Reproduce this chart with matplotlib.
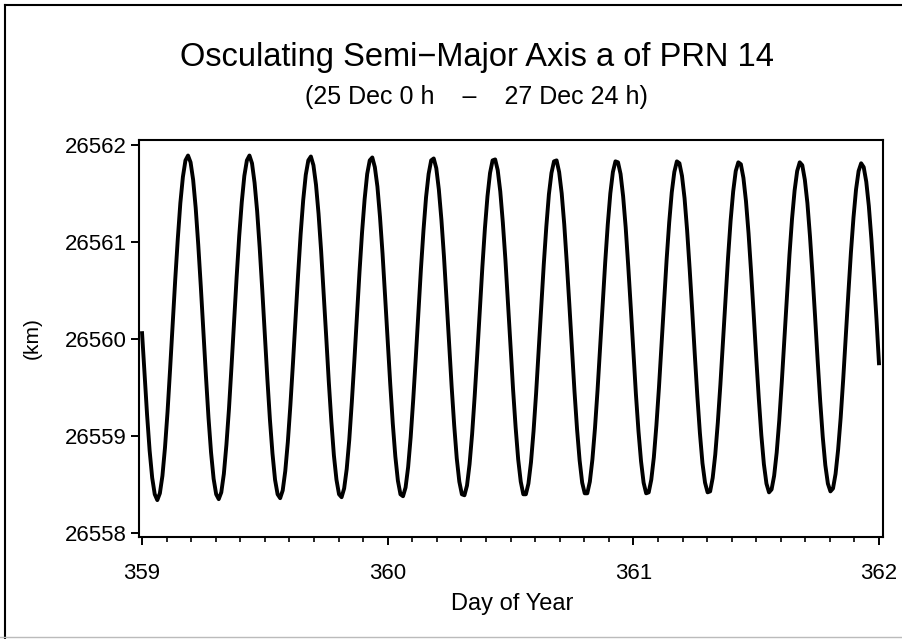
import numpy as np
import matplotlib
matplotlib.use("Agg")
import matplotlib.pyplot as plt
from matplotlib.lines import Line2D
from matplotlib.ticker import MultipleLocator, FormatStrFormatter

plt.rcParams["font.family"] = ["Liberation Sans", "DejaVu Sans"]

# Semi-major axis (km), one value every 15 min from day 359.0 to 362.0
day_start = 359.0
step_hours = 0.25
semi_major_km = [
    26560.08, 26559.65, 26559.22, 26558.85, 26558.57, 26558.40, 26558.34, 26558.41, 26558.59, 26558.88, 26559.25, 26559.69,
    26560.15, 26560.61, 26561.03, 26561.40, 26561.67, 26561.84, 26561.89, 26561.82, 26561.64, 26561.35, 26560.97, 26560.54,
    26560.08, 26559.62, 26559.19, 26558.83, 26558.56, 26558.40, 26558.35, 26558.42, 26558.61, 26558.91, 26559.28, 26559.72,
    26560.18, 26560.64, 26561.06, 26561.41, 26561.68, 26561.84, 26561.89, 26561.81, 26561.61, 26561.32, 26560.94, 26560.51,
    26560.05, 26559.59, 26559.17, 26558.82, 26558.55, 26558.40, 26558.36, 26558.44, 26558.64, 26558.94, 26559.32, 26559.75,
    26560.21, 26560.66, 26561.08, 26561.43, 26561.69, 26561.84, 26561.88, 26561.79, 26561.59, 26561.29, 26560.91, 26560.47,
    26560.02, 26559.56, 26559.15, 26558.80, 26558.55, 26558.40, 26558.37, 26558.46, 26558.66, 26558.96, 26559.35, 26559.78,
    26560.24, 26560.69, 26561.10, 26561.44, 26561.70, 26561.84, 26561.87, 26561.77, 26561.57, 26561.26, 26560.88, 26560.44,
    26559.98, 26559.54, 26559.13, 26558.79, 26558.54, 26558.40, 26558.38, 26558.47, 26558.68, 26558.99, 26559.38, 26559.81,
    26560.27, 26560.72, 26561.12, 26561.46, 26561.70, 26561.84, 26561.86, 26561.76, 26561.54, 26561.23, 26560.85, 26560.41,
    26559.95, 26559.51, 26559.11, 26558.77, 26558.53, 26558.40, 26558.39, 26558.49, 26558.71, 26559.02, 26559.41, 26559.84,
    26560.30, 26560.74, 26561.14, 26561.47, 26561.71, 26561.84, 26561.85, 26561.74, 26561.52, 26561.20, 26560.82, 26560.38,
    26559.93, 26559.48, 26559.09, 26558.76, 26558.53, 26558.40, 26558.40, 26558.51, 26558.73, 26559.05, 26559.44, 26559.88,
    26560.33, 26560.77, 26561.16, 26561.49, 26561.71, 26561.83, 26561.84, 26561.72, 26561.50, 26561.18, 26560.78, 26560.35,
    26559.90, 26559.46, 26559.07, 26558.75, 26558.52, 26558.41, 26558.41, 26558.53, 26558.76, 26559.08, 26559.47, 26559.91,
    26560.36, 26560.79, 26561.18, 26561.50, 26561.72, 26561.83, 26561.82, 26561.70, 26561.47, 26561.15, 26560.75, 26560.32,
    26559.87, 26559.43, 26559.05, 26558.74, 26558.52, 26558.41, 26558.42, 26558.55, 26558.78, 26559.11, 26559.50, 26559.94,
    26560.39, 26560.82, 26561.20, 26561.51, 26561.72, 26561.83, 26561.81, 26561.68, 26561.45, 26561.12, 26560.72, 26560.29,
    26559.84, 26559.41, 26559.03, 26558.72, 26558.52, 26558.42, 26558.43, 26558.57, 26558.81, 26559.14, 26559.53, 26559.97,
    26560.42, 26560.84, 26561.22, 26561.52, 26561.73, 26561.82, 26561.80, 26561.66, 26561.42, 26561.09, 26560.69, 26560.26,
    26559.81, 26559.39, 26559.01, 26558.71, 26558.51, 26558.42, 26558.45, 26558.59, 26558.83, 26559.16, 26559.56, 26560.00,
    26560.44, 26560.87, 26561.24, 26561.53, 26561.73, 26561.82, 26561.79, 26561.64, 26561.40, 26561.06, 26560.66, 26560.23,
    26559.78, 26559.36, 26558.99, 26558.70, 26558.51, 26558.43, 26558.46, 26558.61, 26558.86, 26559.19, 26559.59, 26560.03,
    26560.47, 26560.89, 26561.25, 26561.54, 26561.73, 26561.81, 26561.77, 26561.62, 26561.37, 26561.03, 26560.63, 26560.20,
    26559.73,
]

x_ticks = [359, 360, 361, 362]
y_ticks = [26558, 26559, 26560, 26561, 26562]

day = day_start + np.arange(len(semi_major_km)) * step_hours / 24.0

W, H = 902, 639
fig = plt.figure(figsize=(W / 100, H / 100), dpi=100)
ax = fig.add_axes([139 / W, 1 - 537 / H, (883 - 139) / W, (537 - 140) / H])

ax.plot(day, semi_major_km, color="black", lw=2.8, solid_joinstyle="round", solid_capstyle="butt")

ax.set_xlim(358.988, 362.016)
ax.set_ylim(26557.96, 26562.05)
ax.set_xticks(x_ticks)
ax.set_yticks(y_ticks)
ax.xaxis.set_minor_locator(MultipleLocator(0.1))
ax.yaxis.set_major_formatter(FormatStrFormatter("%d"))
ax.xaxis.set_major_formatter(FormatStrFormatter("%d"))

ax.tick_params(which="major", direction="out", length=6, width=1.4, labelsize=16, colors="black")
ax.tick_params(axis="x", which="major", pad=13)
ax.tick_params(axis="y", which="major", pad=3)
ax.tick_params(axis="x", which="minor", direction="out", length=3.5, width=1.2)
for sp in ax.spines.values():
    sp.set_linewidth(1.5)

# titles and axis labels
fig.text(477 / W, 1 - 66 / H, "Osculating Semi\u2212Major Axis a of PRN 14",
         ha="center", va="baseline", fontsize=23.5)
fig.text(476 / W, 1 - 104 / H, "(25 Dec 0 h    \u2013    27 Dec 24 h)",
         ha="center", va="baseline", fontsize=18)
fig.text(512 / W, 1 - 610 / H, "Day of Year", ha="center", va="baseline", fontsize=17)
fig.text(32 / W, 1 - 338 / H, "(km)", rotation=90, ha="center", va="center", fontsize=15)

# border of the page
fig.add_artist(Line2D([5 / W, 5 / W], [0, 1 - 5 / H], transform=fig.transFigure, color="black", lw=1.5))
fig.add_artist(Line2D([5 / W, 1], [1 - 5 / H, 1 - 5 / H], transform=fig.transFigure, color="black", lw=1.5))
fig.add_artist(Line2D([0, 1], [1 - 637 / H, 1 - 637 / H], transform=fig.transFigure, color="#bbbbbb", lw=1.0))

fig.savefig("out.png", dpi=100)
